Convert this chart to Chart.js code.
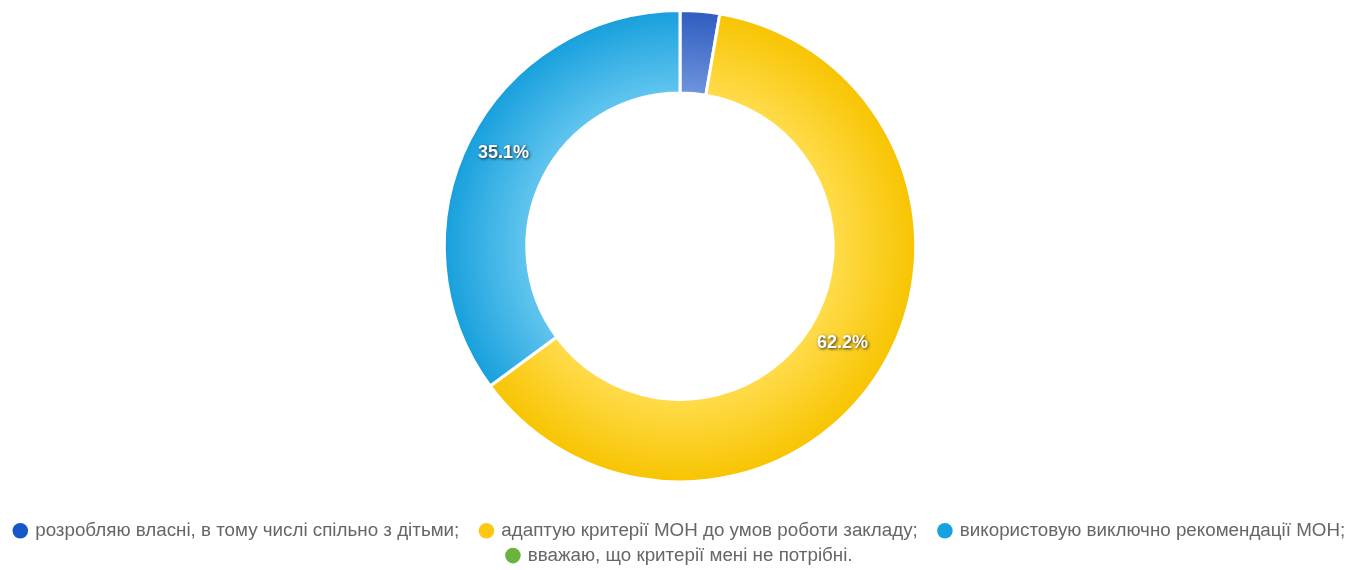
<!DOCTYPE html>
<html>
<head>
<meta charset="utf-8">
<script src="https://cdn.jsdelivr.net/npm/chart.js@4"></script>
<style>
  html, body { margin: 0; padding: 0; background: #fff; overflow: hidden; }
  #wrap { width: 1355px; height: 570px; overflow: hidden; }
</style>
</head>
<body>
<div id="wrap"><canvas id="answerChart" width="1355" height="575"></canvas></div>
<script>
const labels = [
    'розробляю власні, в тому числі спільно з дітьми;',
    'адаптую критерії МОН до умов роботи закладу;',
    'використовую виключно рекомендації МОН;',
    'вважаю, що критерії мені не потрібні.'
]
const shares = [2.7, 62.2, 35.1, 0]
const legendColors = ['#1556c8', '#fcc814', '#16a2e2', '#6ab43e']
const innerColors = ['#6f95dc', '#ffdc4c', '#62c6ef', '#8fcf66']
const outerColors = ['#2d5cc0', '#f7c400', '#169fdc', '#5aa532']

const context = document.getElementById('answerChart').getContext('2d')

const _sliceFill = (ctx) => {
    const i = ctx.dataIndex
    const area = ctx.chart.chartArea
    if (!area) return legendColors[i]
    const cx = (area.left + area.right) / 2
    const cy = (area.top + area.bottom) / 2
    const r = Math.min(area.width, area.height) / 2
    const g = ctx.chart.ctx.createRadialGradient(cx, cy, r * 0.64, cx, cy, r)
    g.addColorStop(0, innerColors[i])
    g.addColorStop(1, outerColors[i])
    return g
}

const percentLabels = {
    id: 'percentLabels',
    afterDatasetsDraw(chart) {
        const ctx = chart.ctx
        const meta = chart.getDatasetMeta(0)
        meta.data.forEach((arc, i) => {
            if (shares[i] < 5) return
            const pos = arc.tooltipPosition()
            ctx.save()
            ctx.font = 'bold 18px "Liberation Sans", Arial, sans-serif'
            ctx.textAlign = 'center'
            ctx.textBaseline = 'middle'
            ctx.shadowColor = 'rgba(0,0,0,0.8)'
            ctx.shadowBlur = 3
            ctx.shadowOffsetX = 1
            ctx.shadowOffsetY = 1
            ctx.fillStyle = '#ffffff'
            ctx.fillText(shares[i].toFixed(1) + '%', pos.x - 3, pos.y - 5)
            ctx.restore()
        })
    }
}

const config = {
    type: 'doughnut',
    data: {
        labels: labels,
        datasets: [
            {
                data: shares,
                backgroundColor: _sliceFill,
                borderColor: '#ffffff',
                borderWidth: 3,
                hoverOffset: 0
            }
        ]
    },
    options: {
        responsive: false,
        animation: false,
        cutout: '65%',
        layout: {
            padding: { top: 9, left: 5 }
        },
        plugins: {
            tooltip: { enabled: false },
            legend: {
                position: 'bottom',
                title: {
                    display: true,
                    text: '',
                    font: { size: 10, lineHeight: 1 },
                    padding: { top: 22, bottom: 0 }
                },
                labels: {
                    usePointStyle: true,
                    pointStyle: 'circle',
                    boxWidth: 11,
                    boxHeight: 11,
                    padding: 6,
                    color: '#2e2e2e',
                    font: { family: '"Liberation Sans", Arial, sans-serif', size: 18.8 },
                    generateLabels(chart) {
                        return labels.map((text, i) => ({
                            text: i < 2 ? text + '\u00a0\u00a0\u00a0' : text,
                            fillStyle: legendColors[i],
                            strokeStyle: legendColors[i],
                            lineWidth: 0,
                            pointStyle: 'circle',
                            hidden: !chart.getDataVisibility(i),
                            index: i
                        }))
                    }
                }
            }
        }
    },
    plugins: [percentLabels]
}

const chart = new Chart(context, config)
</script>
</body>
</html>
